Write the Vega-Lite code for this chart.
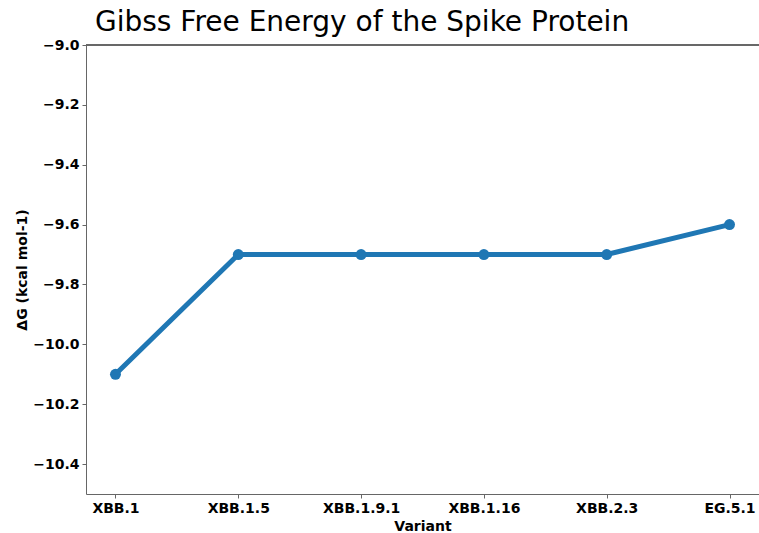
{
  "$schema": "https://vega.github.io/schema/vega-lite/v6.json",
  "autosize": "none",
  "padding": {"left": 86, "top": 45, "right": 0, "bottom": 39},
  "width": 673,
  "height": 449,
  "background": "white",
  "config": {
    "view": {"stroke": null},
    "font": "DejaVu Sans",
    "axis": {
      "labelFont": "DejaVu Sans",
      "labelFontWeight": "bold",
      "labelFontSize": 14,
      "labelColor": "#000",
      "titleFont": "DejaVu Sans",
      "titleFontWeight": "bold",
      "titleFontSize": 14,
      "titleColor": "#000",
      "domainColor": "#666",
      "tickColor": "#666",
      "tickSize": 4,
      "labelPadding": 3,
      "grid": false
    }
  },
  "title": {
    "text": "Gibss Free Energy of the Spike Protein",
    "anchor": "start",
    "frame": "group",
    "dx": 9,
    "fontSize": 28,
    "fontWeight": "normal",
    "font": "DejaVu Sans",
    "color": "#000",
    "baseline": "bottom",
    "offset": -27
  },
  "data": {
    "values": [
      {"variant": "XBB.1", "dG": -10.1},
      {"variant": "XBB.1.5", "dG": -9.7},
      {"variant": "XBB.1.9.1", "dG": -9.7},
      {"variant": "XBB.1.16", "dG": -9.7},
      {"variant": "XBB.2.3", "dG": -9.7},
      {"variant": "EG.5.1", "dG": -9.6}
    ]
  },
  "layer": [
    {
      "mark": {"type": "rule", "color": "#666", "strokeWidth": 1},
      "encoding": {"y": {"datum": -9.0, "type": "quantitative"}}
    },
    {
      "mark": {"type": "line", "color": "#1f77b4", "strokeWidth": 5, "point": {"filled": true, "size": 120, "color": "#1f77b4"}},
      "encoding": {
        "x": {
          "field": "variant",
          "type": "ordinal",
          "sort": null,
          "scale": {"type": "point", "padding": 0.24},
          "axis": {"title": "Variant", "labelAngle": 0, "titlePadding": 4}
        },
        "y": {
          "field": "dG",
          "type": "quantitative",
          "scale": {"domain": [-10.5, -9.0], "nice": false, "zero": false},
          "axis": {"title": "ΔG (kcal mol-1)", "format": ".1f", "values": [-10.4, -10.2, -10.0, -9.8, -9.6, -9.4, -9.2, -9.0], "titlePadding": 3}
        }
      }
    }
  ]
}
